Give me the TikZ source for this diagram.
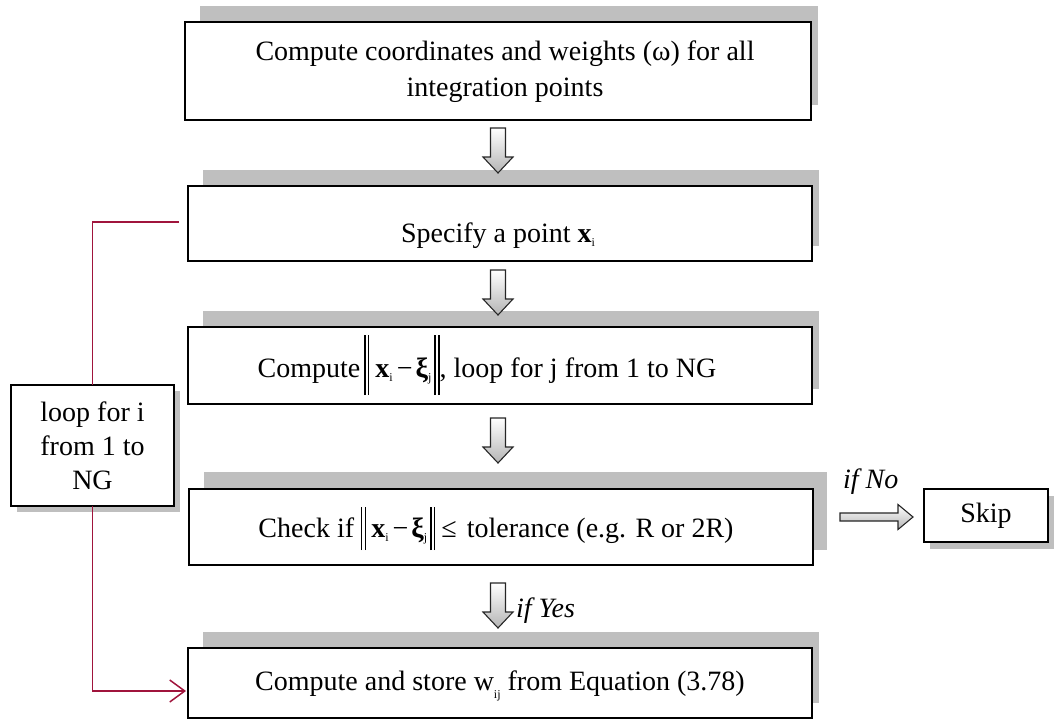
\documentclass[tikz,border=0pt]{standalone}
\usepackage{fontspec}
\setmainfont{Liberation Serif}
\usetikzlibrary{arrows.meta,calc}
\pgfdeclarelayer{background}
\pgfsetlayers{background,main}
\definecolor{shadowgray}{RGB}{191,191,191}
\definecolor{loopred}{RGB}{160,20,60}
\definecolor{arrowgray}{RGB}{180,180,180}
\newcommand\dbar[2]{\raisebox{-#2}{\rule{1.3pt}{#1}\hspace{2.6pt}\rule{1.3pt}{#1}}}
\newcommand\subsc[2][4pt]{\raisebox{-#1}{\fontsize{12}{12}\selectfont #2}}
\begin{document}
\begin{tikzpicture}[x=1pt,y=-1pt,
  font=\fontsize{28}{34}\selectfont,
  box/.style={draw=black, line width=1.6pt, fill=white, inner sep=0pt, outer sep=0pt},
  txt/.style={anchor=base, inner sep=0pt, outer sep=0pt},
  ltxt/.style={anchor=base west, inner sep=0pt, outer sep=0pt, font=\fontsize{28}{34}\selectfont\itshape},
  blk/.style={draw=black!85, line width=1.1pt, top color=white, bottom color=arrowgray},
  redline/.style={draw=loopred, line width=1.5pt},
  downarr/.pic={\path[blk] (-7.5,0) -- (7.5,0) -- (7.5,29) -- (15,29) -- (0,45) -- (-15,29) -- (-7.5,29) -- cycle;},
  rightarr/.pic={\path[blk] (0,-4) -- (58,-4) -- (58,-12.5) -- (73,0) -- (58,12.5) -- (58,4) -- (0,4) -- cycle;}
]
\useasboundingbox (0,0) rectangle (1054,720);

% main boxes
\node[box, minimum width=626pt, minimum height=98pt] (b1) at (498,71) {};
\node[box, minimum width=624pt, minimum height=75pt] (b2) at (500,223.5) {};
\node[box, minimum width=624pt, minimum height=77pt] (b3) at (500,365.5) {};
\node[box, minimum width=624pt, minimum height=76pt] (b4) at (501,527) {};
\node[box, minimum width=624pt, minimum height=70pt] (b5) at (500,683) {};
\node[box, minimum width=163pt, minimum height=121pt, align=center] (loop) at (92.5,445.5) {loop for i\\from 1 to\\NG};
\node[box, minimum width=124pt, minimum height=53pt] (skip) at (986,515.5) {Skip};

% shadows
\begin{pgfonlayer}{background}
  \foreach \b in {b1,b2,b3,b5}{
    \fill[shadowgray] ([xshift=15pt,yshift=16pt]\b.north west) rectangle ([xshift=7pt,yshift=15pt]\b.south east);
  }
  \fill[shadowgray] ([xshift=15pt,yshift=17pt]b4.north west) rectangle ([xshift=14pt,yshift=15pt]b4.south east);
  \fill[shadowgray] ([xshift=6pt,yshift=-6pt]loop.north west) rectangle ([xshift=6pt,yshift=-6pt]loop.south east);
  \fill[shadowgray] ([xshift=6pt,yshift=-7pt]skip.north west) rectangle ([xshift=6pt,yshift=-7pt]skip.south east);
\end{pgfonlayer}

% texts
\node[txt] (t1a) at (505,60) {Compute coordinates and weights (ω) for all};
\node[txt] (t1b) at (505,96) {integration points};
\node[txt] (t2) at (498,242) {Specify a point \textbf{x}\subsc{i}};
\node[txt] (t3) at (487,377) {Compute\hspace{4pt}\dbar{60pt}{18pt}\hspace{6pt}\textbf{x}\subsc{i}\hspace{4pt}−\hspace{3pt}\textbf{ξ}\subsc{j}\hspace{3pt}\dbar{60pt}{18pt}, loop for j from 1 to NG};
\node[txt] (t4) at (496,537) {Check if \dbar{43pt}{13pt}\hspace{5pt}\textbf{x}\subsc{i}\hspace{4pt}−\hspace{3pt}\textbf{ξ}\subsc{j}\hspace{3pt}\dbar{43pt}{13pt}\hspace{6pt}≤\hspace{10pt}tolerance (e.g. R or 2R)};
\node[txt] (t5) at (500,690) {Compute and store w\subsc[8pt]{ij} from Equation (3.78)};
\node[ltxt] (ifno) at (843,488) {if No};
\node[ltxt] (ifyes) at (516,617) {if Yes};

% block arrows
\pic at (498,128) {downarr};
\pic at (498,270) {downarr};
\pic at (498,418) {downarr};
\pic at (498,583) {downarr};
\pic at (840,517) {rightarr};

% loop connector
\coordinate (rs) at (179,222);
\coordinate (re) at (186,691);
\draw[redline] (rs) -| (loop.north);
\draw[redline, -{Straight Barb[length=15pt,width=22pt]}] (loop.south) |- (re);
\end{tikzpicture}
\end{document}
